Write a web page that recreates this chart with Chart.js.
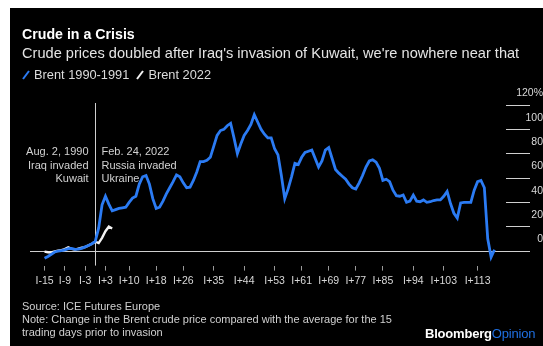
<!DOCTYPE html>
<html>
<head>
<meta charset="utf-8">
<script src="https://cdn.jsdelivr.net/npm/chart.js@4.4.1/dist/chart.umd.min.js"></script>
<style>
  html, body { margin: 0; padding: 0; background: #fff; }
  body { width: 543px; height: 346px; position: relative; overflow: hidden;
         font-family: "Liberation Sans", Arial, sans-serif; }
  #panel { position: absolute; left: 10px; top: 8px; width: 533px; height: 338px; background: #000; }
  #c { position: absolute; left: 0; top: 0; }
  .t { position: absolute; white-space: nowrap; }
  #title { left: 22px; top: 26px; font-size: 14.2px; line-height: 17px; font-weight: bold; color: #fff; }
  #sub { left: 22px; top: 45px; font-size: 14.6px; line-height: 17px; color: #e4e4e4; }
  #legend { left: 22px; top: 67px; font-size: 12.8px; line-height: 15px; color: #dcdcdc; }
  #legend svg { vertical-align: -1px; margin-right: 4px; }
  #source { left: 22px; top: 300px; font-size: 11px; line-height: 13px; color: #d0d0d0; }
  #brand { left: 425px; top: 326px; font-size: 13px; line-height: 15px; font-weight: bold; color: #fff; letter-spacing: -0.2px; }
  #brand span { color: #1f6fe0; font-weight: normal; }
</style>
</head>
<body>
<div id="panel"></div>
<canvas id="c" width="543" height="346"></canvas>
<div class="t" id="title">Crude in a Crisis</div>
<div class="t" id="sub">Crude prices doubled after Iraq's invasion of Kuwait, we're nowhere near that</div>
<div class="t" id="legend">
  <svg width="8" height="10"><line x1="1" y1="9" x2="7" y2="1" stroke="#2b7bf3" stroke-width="2"/></svg>Brent 1990-1991&nbsp;
  <svg width="8" height="10"><line x1="1" y1="9" x2="7" y2="1" stroke="#f2f2f2" stroke-width="2"/></svg>Brent 2022
</div>
<div class="t" id="source">Source: ICE Futures Europe<br>Note: Change in the Brent crude price compared with the average for the 15<br>trading days prior to invasion</div>
<div class="t" id="brand">Bloomberg<span>Opinion</span></div>
<script>
// trading days relative to the invasion, first point is I-15
const firstDay = -15;

// % change vs. 15-day pre-invasion average
const brent1990 = [
  -6, -4.5, -2.7, -0.8, 0, 0.4, 1, 2, 2.2, 1.4, 1.5, 2.2, 3.4, 4.5, 6,
  8, 19, 38, 45, 38.5, 33, 34, 35, 35.5, 36,
  40, 43.5, 45, 55, 61, 62, 55, 43, 35, 36,
  41, 47, 52, 57, 62.5, 61, 56, 52, 52.5, 58,
  65, 73.5, 73.5, 74.5, 77, 86, 95, 99, 100, 103,
  105, 93, 80, 88, 95, 99, 104, 112, 106, 100,
  96, 93, 93, 84, 79, 62, 43, 51, 61, 72,
  71, 77, 81, 82, 83, 76, 69, 74, 83, 85,
  76, 67, 64, 61.5, 59, 55, 52, 51, 56, 62,
  69, 74, 75, 73, 68, 58, 59, 57, 50, 45.5,
  45, 46, 40, 41, 46, 41, 40.5, 42, 40, 40.5,
  41.5, 42, 42, 45, 49, 39, 31, 27, 39.5, 40,
  40, 40, 50, 57, 58, 52, 10, -5, 1
];

const brent2022 = [
  -0.5, -1, -1.2, -0.4, 0.2, 0.7, 1.5, 3, 1.7, 1.2, 2, 2.8, 3.2, 4.6, 6,
  7.7, 6.5, 10.8, 16.3, 20, 18.5
];

const tickDays = [-15, -9, -3, 3, 10, 18, 26, 35, 44, 53, 61, 69, 77, 85, 94, 103, 113];
const yTicks = [0, 20, 40, 60, 80, 100, 120];

const note1990 = ['Aug. 2, 1990', 'Iraq invaded', 'Kuwait'];
const note2022 = ['Feb. 24, 2022', 'Russia invaded', 'Ukraine'];

const toPoints = arr => arr.map((v, i) => ({ x: firstDay + i, y: v }));
const dayLabel = d => d < 0 ? 'I' + d : (d === 0 ? 'I' : 'I+' + d);

const FONT = '"Liberation Sans", Arial, sans-serif';

const invasionMarker = {
  id: 'invasionMarker',
  beforeDatasetsDraw(chart) {
    const { ctx, chartArea, scales: { x } } = chart;
    const px = Math.round(x.getPixelForValue(0)) + 0.5;
    ctx.save();
    ctx.strokeStyle = '#cfcfcf';
    ctx.lineWidth = 1;
    ctx.beginPath();
    ctx.moveTo(px, chartArea.top - 2);
    ctx.lineTo(px, chartArea.bottom);
    ctx.stroke();
    ctx.font = '11px ' + FONT;
    ctx.fillStyle = '#d2d2d2';
    ctx.textBaseline = 'middle';
    ctx.textAlign = 'right';
    note1990.forEach((t, i) => ctx.fillText(t, px - 7, chartArea.top + 47 + i * 13.5));
    ctx.textAlign = 'left';
    note2022.forEach((t, i) => ctx.fillText(t, px + 6, chartArea.top + 47 + i * 13.5));
    ctx.restore();
  }
};

new Chart(document.getElementById('c'), {
  type: 'line',
  data: {
    datasets: [
      {
        label: 'Brent 1990-1991',
        data: toPoints(brent1990),
        borderColor: '#2b7bf3',
        borderWidth: 2.8,
        pointRadius: 0,
        tension: 0
      },
      {
        label: 'Brent 2022',
        data: toPoints(brent2022),
        borderColor: '#f2f2f2',
        borderWidth: 2.4,
        pointRadius: 0,
        tension: 0
      }
    ]
  },
  options: {
    responsive: false,
    animation: false,
    layout: { padding: { left: 30, top: 105, right: 0, bottom: 0 } },
    plugins: { legend: { display: false }, tooltip: { enabled: false } },
    scales: {
      x: {
        type: 'linear',
        min: -19.3,
        max: 121.4,
        afterFit: s => { s.height = 80.4; },
        afterBuildTicks: s => { s.ticks = tickDays.map(v => ({ value: v })); },
        border: { display: false },
        grid: { drawOnChartArea: false, tickLength: 5, tickColor: '#9a9a9a' },
        ticks: {
          autoSkip: false, maxRotation: 0, padding: 4,
          color: '#d8d8d8', font: { family: FONT, size: 10.5 },
          callback: v => dayLabel(v)
        }
      },
      y: {
        position: 'right',
        min: -12,
        max: 120,
        afterFit: s => { s.width = 37; },
        afterBuildTicks: s => { s.ticks = yTicks.map(v => ({ value: v })); },
        border: { display: false },
        grid: {
          color: c => c.tick && c.tick.value === 0 ? '#cfcfcf' : 'rgba(0,0,0,0)',
          tickColor: '#cfcfcf',
          tickLength: 24
        },
        ticks: {
          crossAlign: 'far', padding: -24, labelOffset: -11.5,
          color: '#d8d8d8', font: { family: FONT, size: 10.5 },
          callback: v => v === 120 ? '120%' : String(v)
        }
      }
    }
  },
  plugins: [invasionMarker]
});
</script>
</body>
</html>
